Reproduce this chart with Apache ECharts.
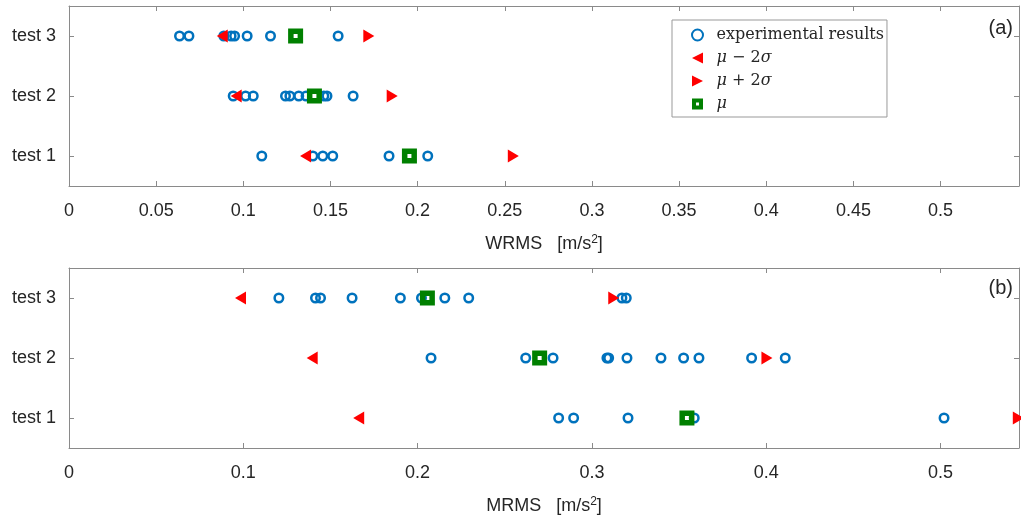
<!DOCTYPE html>
<html>
<head>
<meta charset="utf-8">
<script src="https://cdn.jsdelivr.net/npm/echarts@6/dist/echarts.min.js"></script>
<style>html,body{margin:0;padding:0;background:#fff}#chart{width:1021px;height:520px}</style>
</head>
<body>
<div id="chart"></div>
<script>
// ---------- data ----------
const categories = ['test 1', 'test 2', 'test 3'];

// (a) WRMS
const wrmsExpTest1 = [0.1106, 0.1399, 0.1456, 0.1513, 0.1836, 0.2058];
const wrmsExpTest2 = [0.0942, 0.1013, 0.1057, 0.1242, 0.1267, 0.1318, 0.1360, 0.1408, 0.1462, 0.1480, 0.1630];
const wrmsExpTest3 = [0.0634, 0.0688, 0.0888, 0.0930, 0.0950, 0.1022, 0.1156, 0.1300, 0.1544];
const wrmsLow  = [0.1357, 0.0959, 0.0879];   // mu - 2sigma (test 1, 2, 3)
const wrmsHigh = [0.2549, 0.1854, 0.1720];   // mu + 2sigma
const wrmsMu   = [0.1953, 0.1408, 0.1300];   // mu

// (b) MRMS
const mrmsExpTest1 = [0.2809, 0.2895, 0.3207, 0.3587, 0.5020];
const mrmsExpTest2 = [0.2077, 0.2620, 0.2777, 0.3086, 0.3096, 0.3201, 0.3396, 0.3526, 0.3614, 0.3916, 0.4109];
const mrmsExpTest3 = [0.1204, 0.1414, 0.1443, 0.1624, 0.1901, 0.2022, 0.2156, 0.2293, 0.3172, 0.3197];
const mrmsLow  = [0.1662, 0.1395, 0.0984];
const mrmsHigh = [0.5446, 0.4004, 0.3125];
const mrmsMu   = [0.3545, 0.2700, 0.2056];

const xTickLabelsA = ['0', '0.05', '0.1', '0.15', '0.2', '0.25', '0.3', '0.35', '0.4', '0.45', '0.5'];
const xTickLabelsB = ['0', '0.1', '0.2', '0.3', '0.4', '0.5'];

const seriesNames = ['experimental results', 'mu-2sigma', 'mu+2sigma', 'mu'];

// ---------- styles ----------
const BLUE = '#0072BD', RED = '#FF0000', GREEN = '#008000';
const AXIS_COLOR = '#8a8a8a';
const TEXT_COLOR = '#262626';
const SANS = "'Liberation Sans', Arial, sans-serif";
const SERIF = "'DejaVu Serif', 'Liberation Serif', serif";
const LEFT_TRI = 'path://M0,5L10,0L10,10Z';
const RIGHT_TRI = 'path://M10,5L0,0L0,10Z';
const MU_SQ = 'path://M0,0L15,0L15,15L0,15Z M5.5,5.5L5.5,9.5L9.5,9.5L9.5,5.5Z';

function pairs(vals, cat) { return vals.map(v => [v, cat]); }

function panelSeries(gi, exps, low, high, mu) {
  const expData = [];
  exps.forEach((arr, i) => expData.push(...pairs(arr, categories[i])));
  return [
    { name: seriesNames[0], type: 'scatter', xAxisIndex: gi, yAxisIndex: gi,
      data: expData, symbol: 'circle', symbolSize: 8.5, z: 2,
      itemStyle: { color: 'rgba(0,0,0,0)', borderColor: BLUE, borderWidth: 2.5, opacity: 1 } },
    { name: seriesNames[1], type: 'scatter', xAxisIndex: gi, yAxisIndex: gi,
      data: low.map((v, i) => [v, categories[i]]), symbol: LEFT_TRI, symbolSize: [11, 13], z: 3,
      itemStyle: { color: RED, opacity: 1 } },
    { name: seriesNames[2], type: 'scatter', xAxisIndex: gi, yAxisIndex: gi,
      data: high.map((v, i) => [v, categories[i]]), symbol: RIGHT_TRI, symbolSize: [11, 13], z: 3,
      itemStyle: { color: RED, opacity: 1 } },
    { name: seriesNames[3], type: 'scatter', xAxisIndex: gi, yAxisIndex: gi,
      data: mu.map((v, i) => [v, categories[i]]), symbol: MU_SQ, symbolSize: 15, z: 4,
      itemStyle: { color: GREEN, opacity: 1 } }
  ];
}

function xAxes(gridIndex, interval, labels, title) {
  const common = {
    type: 'value', gridIndex, min: 0, max: 0.545, interval,
    axisLine: { show: true, onZero: false, lineStyle: { color: AXIS_COLOR, width: 1 } },
    axisTick: { show: true, inside: true, length: 5, lineStyle: { color: AXIS_COLOR } },
    splitLine: { show: false }
  };
  return [
    Object.assign({}, common, {
      position: 'bottom',
      name: title, nameLocation: 'middle', nameGap: 48,
      nameTextStyle: {
        rich: {
          a: { fontFamily: SANS, fontSize: 18, color: TEXT_COLOR },
          s: { fontFamily: SANS, fontSize: 12, color: TEXT_COLOR, verticalAlign: 'top', padding: [0, 0, 8, 0] }
        }
      },
      axisLabel: {
        showMaxLabel: false, fontFamily: SANS, fontSize: 18, color: TEXT_COLOR, margin: 16,
        formatter: v => {
          const i = Math.round(v / interval);
          return Math.abs(v - i * interval) < 1e-9 && labels[i] !== undefined ? labels[i] : '';
        }
      }
    }),
    Object.assign({}, common, { position: 'top', axisLabel: { show: false } })
  ];
}

function yAxes(gridIndex) {
  const common = {
    type: 'category', gridIndex, data: categories, boundaryGap: true,
    axisLine: { show: true, onZero: false, lineStyle: { color: AXIS_COLOR, width: 1 } },
    axisTick: { show: true, inside: true, length: 5, alignWithLabel: true, lineStyle: { color: AXIS_COLOR } },
    splitLine: { show: false }
  };
  return [
    Object.assign({}, common, { position: 'left',
      axisLabel: { fontFamily: SANS, fontSize: 18, color: TEXT_COLOR, margin: 13 } }),
    Object.assign({}, common, { position: 'right', axisLabel: { show: false } })
  ];
}

const xA = xAxes(0, 0.05, xTickLabelsA, '{a|WRMS   [m/s}{s|2}{a|]}');
const xB = xAxes(1, 0.1, xTickLabelsB, '{a|MRMS   [m/s}{s|2}{a|]}');
const yA = yAxes(0), yB = yAxes(1);

const option = {
  backgroundColor: '#fff',
  animation: false,
  grid: [
    { left: 69, right: 2, top: 6, height: 180 },
    { left: 69, right: 2, top: 268, height: 180 }
  ],
  title: [
    { text: '(a)', right: 3, top: 13, textStyle: { fontFamily: SANS, fontSize: 20, fontWeight: 'normal', color: TEXT_COLOR } },
    { text: '(b)', right: 3, top: 273, textStyle: { fontFamily: SANS, fontSize: 20, fontWeight: 'normal', color: TEXT_COLOR } }
  ],
  xAxis: [xA[0], xB[0], xA[1], xB[1]],
  yAxis: [yA[0], yB[0], yA[1], yB[1]],
  legend: {
    data: seriesNames,
    orient: 'vertical',
    left: 672, top: 20,
    padding: [6, 3, 4, 19],
    itemGap: 5,
    itemWidth: 28, itemHeight: 11,
    backgroundColor: '#fff',
    borderColor: '#999', borderWidth: 1,
    textStyle: {
      fontFamily: SERIF, fontSize: 16, lineHeight: 18, color: TEXT_COLOR,
      rich: {
        i: { fontFamily: SERIF, fontSize: 16, lineHeight: 18, fontStyle: 'italic', color: TEXT_COLOR },
        n: { fontFamily: SERIF, fontSize: 16, lineHeight: 18, color: TEXT_COLOR }
      }
    },
    formatter: name => {
      if (name === 'mu-2sigma') return '{i|μ}{n| − 2}{i|σ}';
      if (name === 'mu+2sigma') return '{i|μ}{n| + 2}{i|σ}';
      if (name === 'mu') return '{i|μ}';
      return name;
    }
  },
  series: []
};

option.series = panelSeries(0, [wrmsExpTest1, wrmsExpTest2, wrmsExpTest3], wrmsLow, wrmsHigh, wrmsMu)
  .concat(panelSeries(1, [mrmsExpTest1, mrmsExpTest2, mrmsExpTest3], mrmsLow, mrmsHigh, mrmsMu));

const chart = echarts.init(document.getElementById('chart'), null, { renderer: 'canvas' });
chart.setOption(option);
</script>
</body>
</html>
